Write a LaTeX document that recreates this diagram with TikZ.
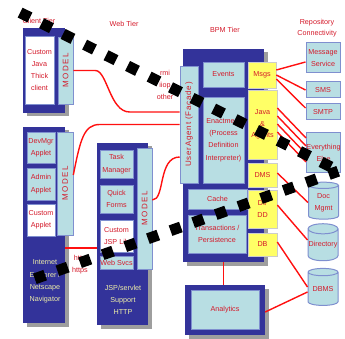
\documentclass[tikz,border=0pt]{standalone}
\usepackage{fontspec}
\setmainfont{Liberation Sans}
\newfontfamily\modelfont[LetterSpace=18]{Liberation Sans}
\newfontfamily\facadefont[LetterSpace=10]{Liberation Sans}
\usetikzlibrary{shapes.geometric, shadows}

\definecolor{tierblue}{HTML}{33339A}
\definecolor{paleblue}{HTML}{B8DEE3}
\definecolor{edgeblue}{HTML}{7F8FCF}
\definecolor{boxyellow}{HTML}{FFFF66}
\definecolor{labelred}{HTML}{D41A2A}
\definecolor{wirered}{HTML}{FF1010}
\definecolor{paletext}{HTML}{EEEEA8}

\tikzset{
  tier/.style={fill=tierblue, inner sep=0pt,
    drop shadow={shadow xshift=3.5pt, shadow yshift=-3.5pt, fill=black!38, opacity=1}},
  panel/.style={fill=paleblue, draw=edgeblue, line width=0.6pt, inner sep=0pt,
    text=labelred, align=center},
  whitebox/.style={panel, fill=white},
  yellowbox/.style={panel, fill=boxyellow, draw=black!20},
  repo/.style={panel, line width=1pt},
  store/.style={repo, cylinder, shape border rotate=90, aspect=0.35,
    minimum width=30pt, minimum height=37pt},
  modeltext/.style={rotate=90, text=labelred, font=\modelfont\fontsize{8}{8}\selectfont},
  heading/.style={text=labelred, align=center},
  tiertext/.style={text=paletext, align=center},
  wire/.style={draw=wirered, line width=1.4pt},
  strike/.style={line width=11pt, dash pattern=on 11pt off 13pt},
}

\begin{document}
\begin{tikzpicture}[x=1pt, y=-1pt, every node/.style={font=\fontsize{7.2}{12.3}\selectfont}]
  \useasboundingbox (0,0) rectangle (345,339);

  % tier headings
  \node[heading] (clienthead) at (39,21) {Client Tier};
  \node[heading] (webhead) at (124,24) {Web Tier};
  \node[heading] (bpmhead) at (225,30) {BPM Tier};
  \node[heading, font=\fontsize{7.2}{11}\selectfont] (repohead) at (317,28.5) {Repository\\Connectivity};

  % thick client
  \node[tier, minimum width=42pt, minimum height=85pt] (thick) at (44,70.5) {};
  \node[whitebox, minimum width=29pt, minimum height=68pt] (javaclient) at (39.5,70) {Custom\\Java\\Thick\\client};
  \node[panel, minimum width=15pt, minimum height=67pt] (jmodel) at (65.5,70.5) {};
  \node[modeltext] (jmodeltxt) at (jmodel) {MODEL};

  % browser client
  \node[tier, minimum width=42pt, minimum height=196pt] (browser) at (44,225) {};
  \node[panel, minimum width=28pt, minimum height=31pt] (devmgr) at (41,147.5) {DevMgr\\Applet};
  \node[panel, minimum width=28pt, minimum height=32pt] (admin) at (41,184) {Admin\\Applet};
  \node[whitebox, minimum width=28pt, minimum height=32pt] (capplet) at (41,220) {Custom\\Applet};
  \node[panel, minimum width=16pt, minimum height=103pt] (amodel) at (65,183.5) {};
  \node[modeltext] (amodeltxt) at (amodel) {MODEL};
  \node[tiertext] (browsertxt) at (45,281.5) {Internet\\Explorer /\\Netscape\\Navigator};

  % web tier
  \node[tier, minimum width=51pt, minimum height=182pt] (web) at (122.5,234) {};
  \node[panel, minimum width=33pt, minimum height=28pt] (taskmgr) at (116.5,164) {Task\\Manager};
  \node[panel, minimum width=33pt, minimum height=28pt] (qforms) at (116.5,199) {Quick\\Forms};
  \node[whitebox, minimum width=33pt, minimum height=32pt] (cjsp) at (116.5,236) {Custom\\JSP Lib};
  \node[panel, minimum width=33pt, minimum height=13pt] (websvc) at (116.5,262.5) {Web Svcs};
  \node[panel, minimum width=15pt, minimum height=121pt] (wmodel) at (144.5,208.5) {};
  \node[modeltext] (wmodeltxt) at (wmodel) {MODEL};
  \node[tiertext] (webtxt) at (123,300) {JSP/servlet\\Support\\HTTP};

  % BPM tier
  \node[tier, minimum width=81pt, minimum height=213pt] (bpm) at (223.5,155.5) {};
  \node[panel, minimum width=18pt, minimum height=117pt] (facade) at (189,124.5) {};
  \node[modeltext, font=\facadefont\fontsize{8}{8}\selectfont] (facadetxt) at (facade) {UserAgent (Facade)};
  \node[panel, minimum width=41pt, minimum height=25pt] (events) at (223.5,74.5) {Events};
  \node[panel, minimum width=41pt, minimum height=86pt] (enact) at (223.5,140) {Enactment\\(Process\\Definition\\Interpreter)};
  \node[panel, minimum width=59pt, minimum height=20pt] (cache) at (217.5,199) {Cache};
  \node[panel, minimum width=58pt, minimum height=38pt] (persist) at (217,234) {Transactions /\\Persistence};
  \node[yellowbox, minimum width=28pt, minimum height=26pt] (msgs) at (262,75) {Msgs};
  \node[yellowbox, minimum width=29pt, minimum height=69pt, font=\fontsize{7.2}{11.5}\selectfont] (agents) at (262.5,124.5) {Java\\\&\\Agents};
  \node[yellowbox, minimum width=29pt, minimum height=24pt] (dms) at (262.5,175) {DMS};
  \node[yellowbox, minimum width=29pt, minimum height=38pt] (dd) at (262.5,209) {DI/\\DD};
  \node[yellowbox, minimum width=29pt, minimum height=23pt] (db) at (262.5,244.5) {DB};

  % analytics
  \node[tier, minimum width=80pt, minimum height=50pt] (analytics) at (225,310) {};
  \node[panel, minimum width=68pt, minimum height=39pt] (analyticsin) at (225,309.5) {Analytics};

  % repositories
  \node[repo, minimum width=34pt, minimum height=30pt] (msgsvc) at (323,58) {Message\\Service};
  \node[repo, minimum width=34pt, minimum height=16pt] (sms) at (323,90) {SMS};
  \node[repo, minimum width=34pt, minimum height=16pt] (smtp) at (323,112) {SMTP};
  \node[repo, minimum width=33pt, minimum height=40pt] (other) at (323.5,153) {Everything\\Else};
  \node[store] (docmgmt) at (323.5,202.5) {Doc\\Mgmt};
  \node[store] (directory) at (323,245) {Directory};
  \node[store] (dbms) at (323,289) {DBMS};

  % protocol labels
  \node[heading] (rmi) at (165,85) {rmi\\iiop\\other};
  \node[heading] (http) at (80,264.5) {http\\https};

  % client side wires
  \draw[wire] (jmodel.east) -- ++(22,0) .. controls +(12,0) and +(-20,0) .. ([xshift=-50pt, yshift=12.5pt]facade.west) -- ([yshift=12.5pt]facade.west);
  \draw[wire] ([yshift=8.5pt]amodel.east) .. controls +(7,-35) and +(-16,0) .. ([xshift=-80pt]facade.west) -- (facade.west);
  \draw[wire] ([yshift=8.5pt]wmodel.east) .. controls +(13,0) and +(-22,0) .. ([yshift=-32.5pt]facade.west);
  \draw[wire] ([yshift=-23pt]browser.east) -- ([yshift=-14pt]web.west);

  % repository wires
  \draw[wire] ([yshift=5pt]msgs.east) -- ([yshift=-4pt]msgsvc.west);
  \draw[wire] (msgs.east) -- (sms.west);
  \draw[wire] ([yshift=-4pt]msgs.east) -- ([yshift=4pt]smtp.west);
  \foreach \k in {0,...,3} {
    \draw[wire] ([yshift={16.5pt-8pt*\k}]agents.east) -- ([yshift={15pt-8pt*\k}]other.west);
  }
  \draw[wire] ([yshift=2pt]dms.east) -- (docmgmt.west);
  \draw[wire] ([yshift=4pt]dd.east) -- ([yshift=5pt]directory.west);
  \draw[wire] ([yshift=2.5pt]db.east) -- ([yshift=2pt]dbms.west);
  \draw[wire] ([yshift=-2pt]analytics.east) -- ([yshift=-3pt]dbms.west);
  \draw[wire] (bpm.south) -- (bpm.south |- analytics.north);

  % cross-out strokes
  \coordinate (S1) at (20.1,12.6);
  \coordinate (E1) at (332,167.4);
  \coordinate (S2) at (34.8,278.8);
  \coordinate (E2) at (338.2,171.2);
  \draw[strike] (S1) -- (E1);
  \draw[strike] (S2) -- (E2);
\end{tikzpicture}
\end{document}
